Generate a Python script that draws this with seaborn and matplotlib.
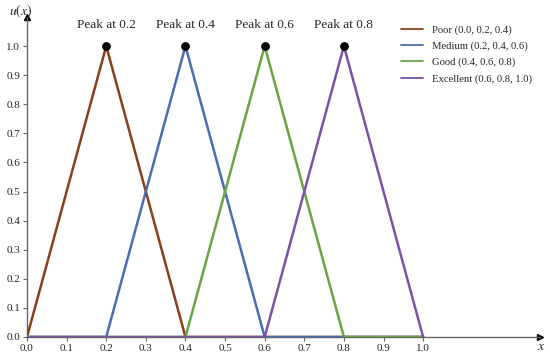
import numpy as np
import pandas as pd
import matplotlib
matplotlib.use("Agg")
import matplotlib.pyplot as plt
import seaborn as sns

sns.set_style("white")
plt.rcParams['font.family'] = ['Liberation Serif', 'DejaVu Serif']
plt.rcParams['mathtext.fontset'] = 'stix'

# membership values at the breakpoints
x_points = [0.0, 0.2, 0.4, 0.6, 0.8, 1.0]
poor = [0, 1, 0, 0, 0, 0]
medium = [0, 0, 1, 0, 0, 0]
good = [0, 0, 0, 1, 0, 0]
excellent = [0, 0, 0, 0, 1, 0]
labels = ["Poor (0.0, 0.2, 0.4)", "Medium (0.2, 0.4, 0.6)",
          "Good (0.4, 0.6, 0.8)", "Excellent (0.6, 0.8, 1.0)"]
peaks = [0.2, 0.4, 0.6, 0.8]
colors = ["#8a3f1c", "#4a6db3", "#6aa544", "#7a52a6"]

x_ticks = [0.0, 0.1, 0.2, 0.3, 0.4, 0.5, 0.6, 0.7, 0.8, 0.9, 1.0]
y_ticks = [0.0, 0.1, 0.2, 0.3, 0.4, 0.5, 0.6, 0.7, 0.8, 0.9, 1.0]

df = pd.DataFrame({"x": x_points * 4,
                   "u": poor + medium + good + excellent,
                   "set": np.repeat(labels, len(x_points))})

fig = plt.figure(figsize=(5.5, 3.58), dpi=100)
ax = fig.add_axes([27 / 550, 21 / 358, 513 / 550, 320 / 358])

sns.lineplot(data=df, x="x", y="u", hue="set", palette=colors, ax=ax,
             linewidth=1.8, legend=True, zorder=3)

ax.scatter(peaks, [1, 1, 1, 1], s=28, color="black", zorder=5)
for p in peaks:
    ax.text(p, 1.072, f"Peak at {p}", ha="center", va="center", fontsize=9.5)

ax.set_xlim(0, 1.295)
ax.set_ylim(0, 1.10)
ax.set_xticks(x_ticks)
ax.set_yticks(y_ticks)
ax.set_xticklabels([f"{t:.1f}" for t in x_ticks], fontsize=8)
ax.set_yticklabels([f"{t:.1f}" for t in y_ticks], fontsize=8)
ax.tick_params(axis="both", length=3, width=0.8, color="#666666", pad=2,
               direction="out", bottom=True, left=True)
ax.set_xlabel("")
ax.set_ylabel("")

for s in ["top", "right"]:
    ax.spines[s].set_visible(False)
for s in ["left", "bottom"]:
    ax.spines[s].set_color("#666666")
    ax.spines[s].set_linewidth(1.0)

ax.plot(1, 0, ">", color="black", markersize=4, transform=ax.transAxes, clip_on=False)
ax.plot(0, 1, "^", color="black", markersize=4, transform=ax.transAxes, clip_on=False)
fig.text(541 / 550, 1 - 347 / 358, "$x$", ha="center", va="center", fontsize=10)
fig.text(21 / 550, 1 - 11 / 358, "$u(x)$", ha="center", va="center", fontsize=10)

handles, _ = ax.get_legend_handles_labels()
for h in handles:
    h.set_linewidth(1.3)
ax.legend(handles, labels, loc="upper left", bbox_to_anchor=(401 / 550, 1 - 25 / 358),
          bbox_transform=fig.transFigure, frameon=False, fontsize=7.7,
          handlelength=2.1, handletextpad=0.8, labelspacing=0.62,
          borderpad=0, borderaxespad=0)

fig.savefig("out.png", dpi=100)
